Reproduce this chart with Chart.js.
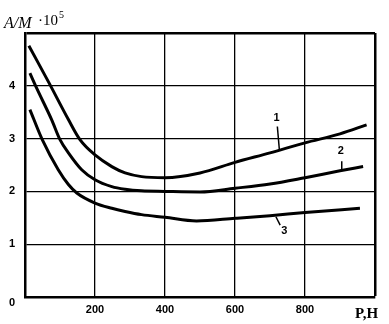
<!DOCTYPE html>
<html>
<head>
<meta charset="utf-8">
<script src="https://cdn.jsdelivr.net/npm/chart.js@4/dist/chart.umd.min.js"></script>
<style>
  html, body { margin: 0; padding: 0; background: #fff; }
  #wrap { width: 389px; height: 324px; }
</style>
</head>
<body>
<div id="wrap"><canvas id="chart" width="389" height="324"></canvas></div>
<script>
// values (x = P, H; y = A/M * 10^5)
const curve1X = [11, 69, 124, 157, 200, 248, 286, 333, 400, 500, 600, 700, 800, 900, 976];
const curve1Y = [4.76, 4.05, 3.36, 2.98, 2.69, 2.47, 2.35, 2.28, 2.26, 2.35, 2.55, 2.73, 2.92, 3.09, 3.26];

const curve2X = [14, 33, 76, 100, 124, 162, 200, 248, 286, 333, 400, 500, 600, 700, 800, 900, 966];
const curve2Y = [4.24, 3.96, 3.36, 2.98, 2.73, 2.41, 2.22, 2.09, 2.04, 2.01, 2.0, 1.99, 2.06, 2.14, 2.26, 2.39, 2.47];

const curve3X = [14, 50, 95, 124, 148, 200, 248, 286, 333, 400, 490, 600, 700, 800, 957];
const curve3Y = [3.55, 2.97, 2.41, 2.13, 1.97, 1.78, 1.68, 1.62, 1.56, 1.51, 1.44, 1.49, 1.54, 1.60, 1.68];

const xTicks = [200, 400, 600, 800];
const yTicks = [0, 1, 2, 3, 4];

// curve numbers with their leader lines, in data units
const curveLabels = [
    { text: '1', at: [719, 3.39], from: [721, 3.23], to: [727, 2.77] },
    { text: '2', at: [902, 2.76], from: [905, 2.57], to: [905, 2.41] },
    { text: '3', at: [741, 1.26], from: [729, 1.36], to: [717, 1.52] }
];

const toPoints = (xs, ys) => xs.map((x, i) => ({ x, y: ys[i] }));

const lineStyle = {
    borderColor: '#000',
    borderWidth: 3,
    pointRadius: 0,
    fill: false,
    cubicInterpolationMode: 'monotone'
};

const extras = {
    id: 'extras',
    afterDraw(chart) {
        const { ctx, scales: { x, y } } = chart;
        ctx.save();
        ctx.fillStyle = '#000';
        ctx.strokeStyle = '#000';

        curveLabels.forEach(l => {
            ctx.lineWidth = 1.5;
            ctx.beginPath();
            ctx.moveTo(x.getPixelForValue(l.from[0]), y.getPixelForValue(l.from[1]));
            ctx.lineTo(x.getPixelForValue(l.to[0]), y.getPixelForValue(l.to[1]));
            ctx.stroke();
            ctx.font = 'bold 11px "Liberation Sans", Arial, sans-serif';
            ctx.textAlign = 'center';
            ctx.textBaseline = 'middle';
            ctx.fillText(l.text, x.getPixelForValue(l.at[0]), y.getPixelForValue(l.at[1]));
        });

        // zero label sits a little under the axis
        ctx.font = 'bold 11px "Liberation Sans", Arial, sans-serif';
        ctx.textAlign = 'right';
        ctx.textBaseline = 'middle';
        ctx.fillText('0', 15, y.getPixelForValue(0) + 6);

        // axis names
        ctx.textAlign = 'left';
        ctx.textBaseline = 'alphabetic';
        ctx.font = 'bold 15px "Liberation Serif", "Times New Roman", serif';
        ctx.fillText('P,H', 355, 318);

        ctx.font = 'italic 16px "Liberation Serif", "Times New Roman", serif';
        ctx.fillText('A/M', 4, 28);
        ctx.font = '15px "Liberation Serif", "Times New Roman", serif';
        ctx.fillText('·10', 38, 25);
        const w = ctx.measureText('·10').width;
        ctx.font = '10px "Liberation Serif", "Times New Roman", serif';
        ctx.fillText('5', 38 + w + 1, 18);
        ctx.restore();
    }
};

new Chart(document.getElementById('chart'), {
    type: 'line',
    data: {
        datasets: [
            { label: '1', data: toPoints(curve1X, curve1Y), ...lineStyle },
            { label: '2', data: toPoints(curve2X, curve2Y), ...lineStyle },
            { label: '3', data: toPoints(curve3X, curve3Y), ...lineStyle }
        ]
    },
    options: {
        responsive: false,
        animation: false,
        layout: { padding: { top: 33, right: 14, left: 0, bottom: 0 } },
        plugins: { legend: { display: false }, tooltip: { enabled: false } },
        scales: {
            x: {
                type: 'linear',
                min: 0,
                max: 1000,
                afterFit: s => { s.height = 27; },
                afterBuildTicks: s => {
                    s.ticks = [0, ...xTicks, 1000].map(v => ({ value: v }));
                },
                ticks: {
                    color: '#000',
                    padding: 6,
                    maxRotation: 0,
                    font: { family: '"Liberation Sans", Arial, sans-serif', size: 11, weight: 'bold' },
                    callback: v => xTicks.includes(v) ? String(v) : ''
                },
                grid: {
                    color: '#000',
                    drawTicks: false,
                    lineWidth: c => c.tick && c.tick.value === 1000 ? 2.5 : 1.3
                },
                border: { display: true, color: '#000', width: 2.5 }
            },
            y: {
                min: 0,
                max: 5,
                afterFit: s => { s.width = 25; },
                afterBuildTicks: s => {
                    s.ticks = [...yTicks, 5].map(v => ({ value: v }));
                },
                ticks: {
                    color: '#000',
                    padding: 10,
                    font: { family: '"Liberation Sans", Arial, sans-serif', size: 11, weight: 'bold' },
                    callback: v => (yTicks.includes(v) && v !== 0) ? String(v) : ''
                },
                grid: {
                    color: '#000',
                    drawTicks: false,
                    lineWidth: c => c.tick && c.tick.value === 5 ? 2.5 : 1.3
                },
                border: { display: true, color: '#000', width: 2.5 }
            }
        }
    },
    plugins: [extras]
});
</script>
</body>
</html>
